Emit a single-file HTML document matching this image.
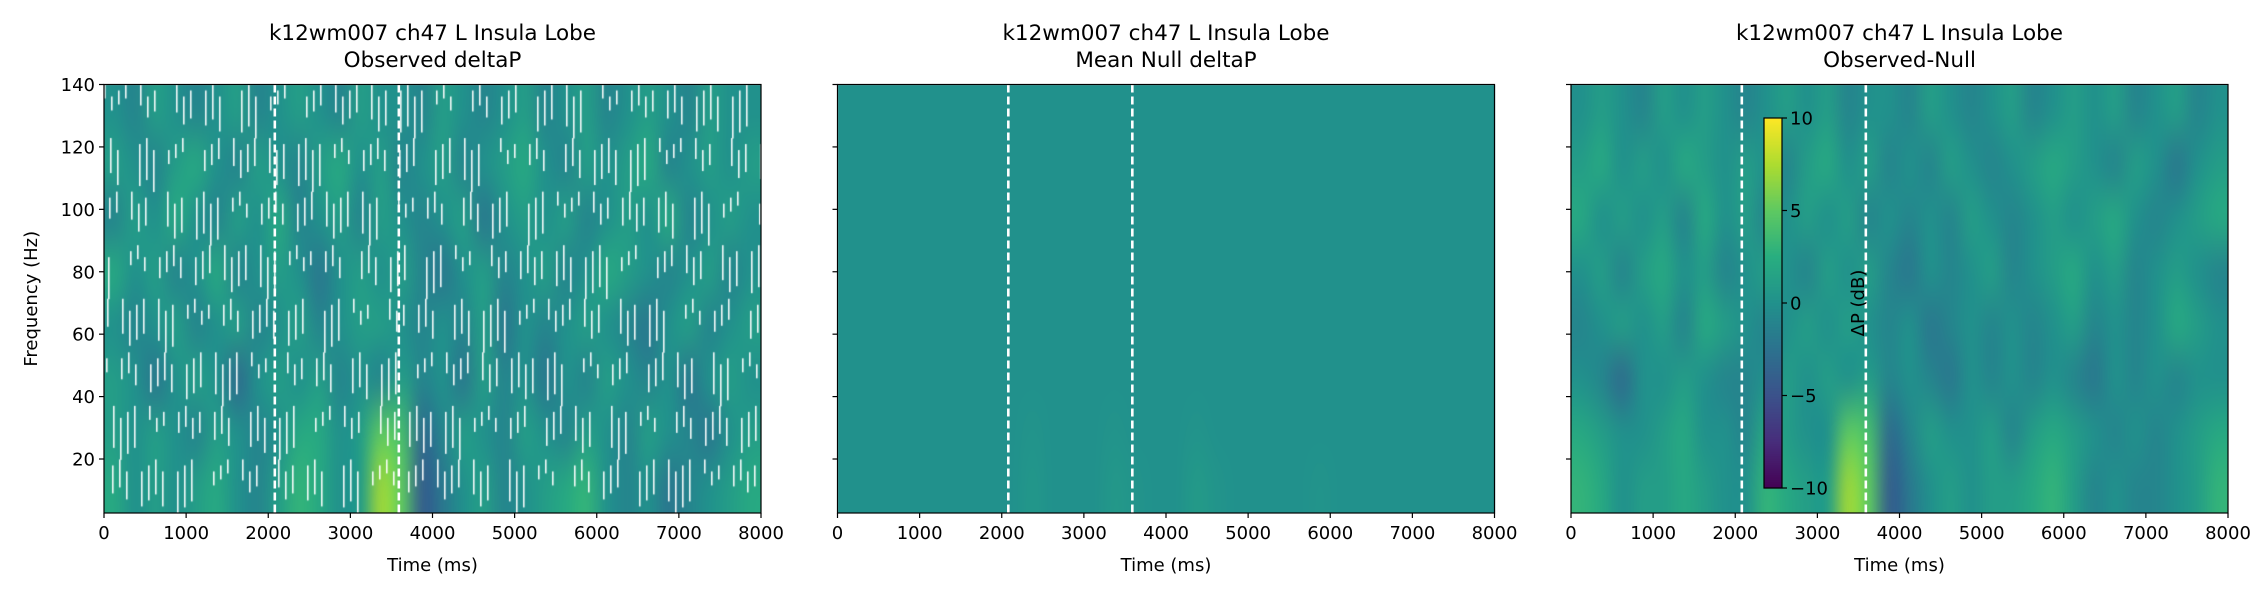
<!DOCTYPE html>
<html><head><meta charset="utf-8"><style>
html,body{margin:0;padding:0;background:#fff;}
#wrap{position:relative;width:2250px;height:600px;overflow:hidden;}
canvas,svg{position:absolute;left:0;top:0;}
text{font-family:"DejaVu Sans","Liberation Sans",sans-serif;fill:#000;}
</style></head><body>
<div id="wrap">
<canvas id="cv" width="2250" height="600"></canvas>
<svg id="sv" width="2250" height="600"></svg>
</div>
<script>
// ---- data ----
const timeTicks = [0,1000,2000,3000,4000,5000,6000,7000,8000];
const freqTicks = [20,40,60,80,100,120,140];
const cbarTicks = [10,5,0,-5,-10];
const cbarTickLabels = ["10","5","0","\u22125","\u221210"];
const eventTimes = [2080,3590];
const panelTitles = ["Observed deltaP","Mean Null deltaP","Observed-Null"];
const mainTitle = "k12wm007 ch47 L Insula Lobe";
// grids: rows top(140Hz) -> bottom(3Hz), 32 columns of 250 ms
const observedGrid = [
 [0,-1,1,0,-1,0,1,-1,0,1,0,-1,1,0,0,-1,1,0,-1,0,1,-1,0,1,-1,0,1,0,-1,1,0,0],
 [1,0,-1,1,2,0,-1,1,0,-1,1,2,0,1,-1,0,1,-1,0,1,2,0,-1,1,0,1,2,-1,0,1,0,1],
 [-1,1,0,2,0,-1,1,0,2,-1,0,1,-1,1,0,-1,0,1,-2,0,1,0,1,-1,0,1,0,2,-1,0,1,0],
 [2,0,1,-1,0,2,-1,0,1,0,-2,0,1,0,1,-1,-2,0,1,-1,0,1,-1,0,2,1,0,-1,0,1,-1,0],
 [0,-1,0,1,-1,0,1,-1,0,1,-1,0,1,1,0,-1,0,-1,1,-2,0,-1,0,1,0,-1,-2,0,1,-1,0,1],
 [1,0,-2,0,1,0,-3,0,1,0,1,-1,0,-1,1,-1,0,-2,1,-1,0,-2,0,-1,1,0,-1,0,-2,0,1,0],
 [1,0,1,0,-1,1,0,-1,0,2,2,0,1,5,4,-3,-1,1,0,-1,1,0,-1,1,0,-1,1,0,-1,-2,0,1],
 [2,0,1,0,1,2,0,-1,1,3,2,0,1,7,5,-4,-2,0,1,-1,0,1,2,3,0,-1,0,-2,-1,0,1,2]
];
const nullGrid = [
 [0,0,0,0,0,0,0,0,0,0,0,0,0,0,0,0,0,0,0,0,0,0,0,0,0,0,0,0,0,0,0,0],
 [0,0,0,0,0,0,0,0,0,0,0,0,0,0,0,0,0,0,0,0,0,0,0,0,0,0,0,0,0,0,0,0],
 [0,0,0,0,0,0,0,0,0,0,0,0,0,0,0,0,0,0,0,0,0,0,0,0,0,0,0,0,0,0,0,0],
 [0,0,0,0,0,0,0,0,0,0,0,0,0,0,0,0,0,0,0,0,0,0,0,0,0,0,0,0,0,0,0,0],
 [0,0,0,0,0,0,0,0,0,0,0,0,0,0,0,0,0,0,0,0,0,0,0,0,0,0,0,0,0,0,0,0],
 [0,0,0,0,0,0,0,0,0,0,0,0,0,0,0,0,0,0,0,0,0,0,0,0,0,0,0,0,0,0,0,0],
 [0,0,0,0,0,0,0,0,0,0.3,0,0,0,0.3,0,0,0,0.3,0,0,0,0,0,0,0,0,0,0,0,0,0,0],
 [0,0,0,0,0,0,0,0,0,0.5,0,0,0,0.6,0.3,0,0,0.8,0.3,0,0,0,0,0.3,0,0,0,0,0,0,0,0]
];
const diffGrid = [
 [0,1,0,-1,1,0,1,0,-1,0,1,0,1,-1,0,0,-1,1,0,-1,0,1,-1,0,1,0,1,-1,0,1,-1,0],
 [1,2,0,1,0,2,1,0,1,0,-1,1,2,0,1,-1,0,-1,1,0,-1,0,1,2,1,0,-1,1,0,-2,0,1],
 [2,0,1,0,1,-1,2,0,1,-1,0,1,0,1,-1,0,-1,0,-1,1,0,-1,0,1,0,1,2,0,-1,0,1,2],
 [0,1,-1,1,2,0,1,-1,0,1,0,-1,1,0,1,-1,-2,0,-1,0,1,-1,0,1,2,0,1,-1,0,1,0,-1],
 [-1,0,1,0,1,-1,2,1,0,-1,0,1,0,1,0,-1,0,-2,-1,0,-1,0,-1,0,1,-1,0,-1,0,2,1,0],
 [0,-1,-3,0,0,1,0,-1,-1,0,1,0,1,0,1,-1,0,-1,-2,0,-1,0,-1,0,-1,-2,0,-1,0,-1,0,0],
 [2,1,0,0,1,2,0,0,-1,2,1,0,0,5,4,-3,-1,1,0,0,1,-1,1,2,1,0,-1,0,-1,0,1,2],
 [3,2,0,1,1,2,1,0,0,3,2,1,1,7,5,-4,-2,0,1,0,1,1,2,3,1,-1,0,-1,-1,0,1,3]
];
// ---- layout ----
const PL=[104,837.5,1571], PW=657, TOP=84.5, BOT=513, FMIN=2.7, FMAX=140, TMAX=8000;
const xs=(p,t)=>PL[p]+t/TMAX*PW;
const ys=f=>BOT-(f-FMIN)/(FMAX-FMIN)*(BOT-TOP);
const vstops=[[68,1,84],[71,45,123],[59,82,139],[44,114,142],[33,145,140],[40,174,128],[94,201,98],[173,220,48],[253,231,37]];
function viridis(v){let t=Math.max(0,Math.min(1,(v+10)/20))*8;let i=Math.min(7,Math.floor(t)),f=t-i;const a=vstops[i],b=vstops[i+1];return [0,1,2].map(k=>Math.round(a[k]+(b[k]-a[k])*f));}
const cv=document.getElementById('cv'),ctx=cv.getContext('2d');
function drawGrid(p,grid){
  const r=grid.length,c=grid[0].length;
  const sm=document.createElement('canvas');sm.width=c;sm.height=r;
  const sc=sm.getContext('2d');const img=sc.createImageData(c,r);
  grid.forEach((row,i)=>row.forEach((v,j)=>{const col=viridis(v);const o=(i*c+j)*4;img.data[o]=col[0];img.data[o+1]=col[1];img.data[o+2]=col[2];img.data[o+3]=255;}));
  sc.putImageData(img,0,0);
  ctx.imageSmoothingEnabled=true;ctx.imageSmoothingQuality='high';
  ctx.drawImage(sm,PL[p],TOP,PW,BOT-TOP);
}
drawGrid(0,observedGrid);drawGrid(1,nullGrid);drawGrid(2,diffGrid);
// NaN-mask texture for observed panel (decorative)
ctx.fillStyle='rgba(255,255,255,0.95)';
for(let k=0;k<520;k++){
  const x=PL[0]+((k*37)%PW);const band=(k*7)%8;
  const y0=TOP+band*(BOT-TOP)/8+((k*5)%3)*6;const h=((k*13)%5+2)*7;
  ctx.fillRect(x,y0,1.6,Math.min(h,BOT-y0));
}
// colorbar
const CB={x:1764,y:118,w:18,h:370};
for(let i=0;i<CB.h;i++){const v=10-20*i/CB.h;const c=viridis(v);ctx.fillStyle=`rgb(${c})`;ctx.fillRect(CB.x,CB.y+i,CB.w,1.2);}
// ---- svg ----
const NS='http://www.w3.org/2000/svg',sv=document.getElementById('sv');
function el(tag,at,txt){const e=document.createElementNS(NS,tag);for(const k in at)e.setAttribute(k,at[k]);if(txt!==undefined)e.textContent=txt;sv.appendChild(e);return e;}
for(let p=0;p<3;p++){
  const cx=PL[p]+PW/2;
  let e=el('text',{x:cx,y:40,'text-anchor':'middle','font-size':21.5},mainTitle);
  
  
  e=el('text',{x:cx,y:67,'text-anchor':'middle','font-size':21.5},panelTitles[p]);
  
  
  eventTimes.forEach(t=>{const l=el('line',{x1:xs(p,t),x2:xs(p,t),y1:TOP,y2:BOT,stroke:'#fff','stroke-width':2.6,'stroke-dasharray':'8,4'});
    
    });
  e=el('rect',{x:PL[p],y:TOP,width:PW,height:BOT-TOP,fill:'none',stroke:'#000','stroke-width':1.2});
  
  
  timeTicks.forEach(t=>{el('line',{x1:xs(p,t),x2:xs(p,t),y1:BOT,y2:BOT+5,stroke:'#000','stroke-width':1.2});
    const tl=el('text',{x:xs(p,t),y:BOT+26,'text-anchor':'middle','font-size':18},String(t));
    
    });
  freqTicks.forEach(f=>{el('line',{x1:PL[p]-5,x2:PL[p],y1:ys(f),y2:ys(f),stroke:'#000','stroke-width':1.2});
    if(p===0){const tl=el('text',{x:PL[p]-9,y:ys(f)+6.5,'text-anchor':'end','font-size':18},String(f));
      
      }});
  e=el('text',{x:cx,y:571,'text-anchor':'middle','font-size':18},'Time (ms)');
  
  
}
let yl=el('text',{x:0,y:0,'text-anchor':'middle','font-size':18,transform:`translate(37,${(TOP+BOT)/2}) rotate(-90)`},'Frequency (Hz)');


let cbf=el('rect',{x:CB.x,y:CB.y,width:CB.w,height:CB.h,fill:'none',stroke:'#000','stroke-width':1.2});


cbarTicks.forEach((v,i)=>{const y=CB.y+(10-v)/20*CB.h;el('line',{x1:CB.x+CB.w,x2:CB.x+CB.w+5,y1:y,y2:y,stroke:'#000','stroke-width':1.2});
  const t=el('text',{x:CB.x+CB.w+8,y:y+6.5,'font-size':18},cbarTickLabels[i]);
  
  });
let cl=el('text',{x:0,y:0,'text-anchor':'middle','font-size':18,transform:`translate(1864,${CB.y+CB.h/2}) rotate(-90)`},'\u0394P (dB)');


</script>
</body></html>
